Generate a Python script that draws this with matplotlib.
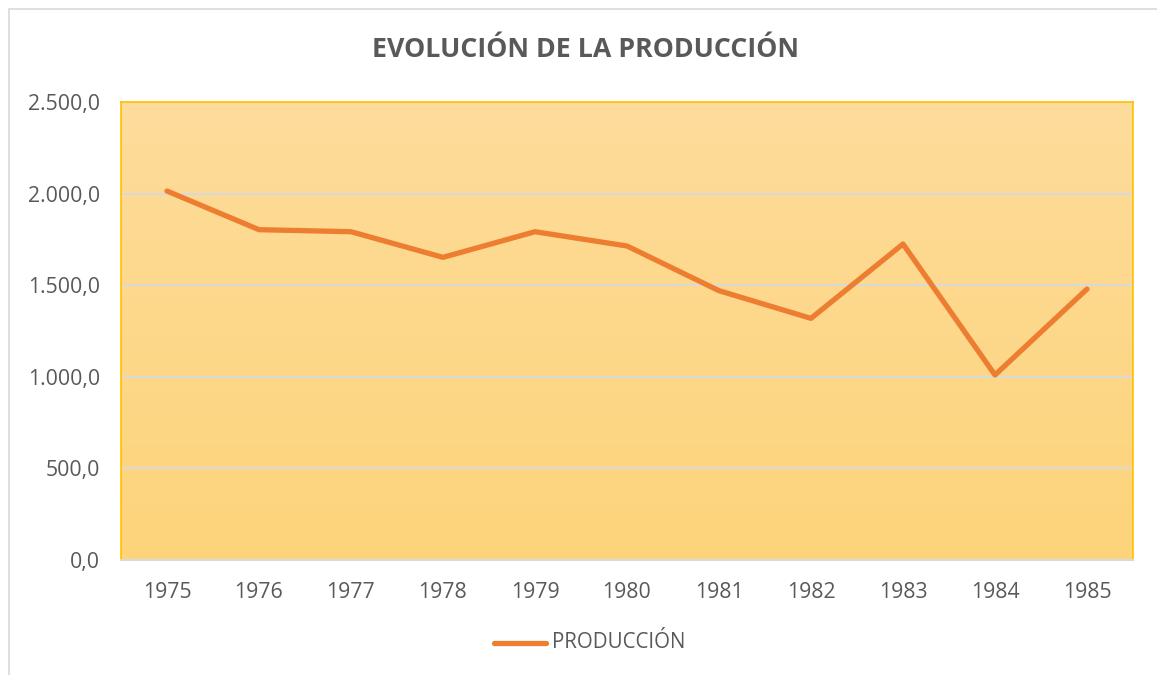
import numpy as np
import matplotlib
matplotlib.use('Agg')
import matplotlib.pyplot as plt
from matplotlib.patches import Rectangle
from matplotlib.lines import Line2D
from matplotlib.ticker import FuncFormatter

years = ['1975', '1976', '1977', '1978', '1979', '1980',
         '1981', '1982', '1983', '1984', '1985']
produccion = [2014, 1803, 1792, 1652, 1792, 1714, 1470, 1319, 1725, 1010, 1479]
y_ticks = [0, 500, 1000, 1500, 2000, 2500]

W, H, dpi = 1157, 675, 100
text_gray = '#595959'
line_color = '#ED7D31'
plt.rcParams['font.family'] = ['Open Sans', 'DejaVu Sans']


def es_format(v, pos):
    # 2500 -> "2.500,0"
    s = f'{v:,.1f}'
    return s.replace(',', 'X').replace('.', ',').replace('X', '.')


fig = plt.figure(figsize=(W / dpi, H / dpi), dpi=dpi)
fig.patch.set_facecolor('white')

# outer chart border
fig.patches.append(Rectangle((9 / W, -0.01), 1.02, 1 - 9 / H + 0.01,
                             transform=fig.transFigure, fill=False,
                             edgecolor='#D9D9D9', lw=1.2))

left, right, top, bottom = 121, 1133, 102, 560
ax = fig.add_axes([left / W, 1 - bottom / H, (right - left) / W, (bottom - top) / H])

x = np.arange(len(years))
ax.set_xlim(-0.5, len(years) - 0.5)
ax.set_ylim(0, 2500)

# vertical gradient fill of the plot area
grad = np.linspace(0, 1, 256).reshape(-1, 1)
c_top = np.array([253, 220, 155]) / 255
c_bot = np.array([254, 212, 122]) / 255
img = c_bot + (c_top - c_bot) * grad[..., None]
ax.imshow(img.reshape(256, 1, 3), aspect='auto', origin='lower',
          extent=[-0.5, len(years) - 0.5, 0, 2500], zorder=0)

for t in y_ticks[1:-1]:
    ax.axhline(t, color='#D9D9D9', lw=1.5, zorder=1)

ax.plot(x, produccion, color=line_color, lw=3.8, solid_capstyle='round',
        solid_joinstyle='round', zorder=3)

for s in ['left', 'right', 'top']:
    ax.spines[s].set_color('#FFC000')
    ax.spines[s].set_linewidth(1.2)
ax.spines['bottom'].set_color('#D9D9D9')
ax.spines['bottom'].set_linewidth(1.5)

ax.set_xticks(x)
ax.set_xticklabels(years)
ax.set_yticks(y_ticks)
ax.yaxis.set_major_formatter(FuncFormatter(es_format))
ax.tick_params(axis='both', length=0, colors=text_gray, labelsize=15.3)
ax.tick_params(axis='x', pad=15.5)
ax.tick_params(axis='y', pad=15)

fig.text(586 / W, 1 - 50 / H, 'EVOLUCIÓN DE LA PRODUCCIÓN', ha='center', va='center',
         fontsize=19.3, fontweight='bold', color=text_gray)

# legend
fig.add_artist(Line2D([494 / W, 546 / W], [1 - 643 / H] * 2, color=line_color, lw=3.8,
                      solid_capstyle='round', transform=fig.transFigure))
fig.text(552 / W, 1 - 643 / H, 'PRODUCCIÓN', ha='left', va='center',
         fontsize=14.8, color=text_gray)

fig.savefig('out.png', dpi=dpi)
